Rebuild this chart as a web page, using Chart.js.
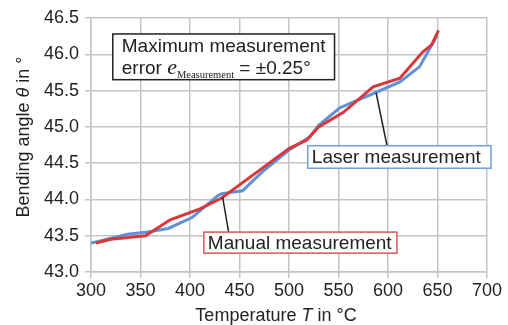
<!DOCTYPE html>
<html>
<head>
<meta charset="utf-8">
<script src="https://cdn.jsdelivr.net/npm/chart.js@4.4.1/dist/chart.umd.min.js"></script>
<style>
body { margin: 0; background: #fff; }
canvas { display: block; }
</style>
</head>
<body>
<canvas id="bendChart" width="508" height="325"></canvas>
<script>
// values
var manualTemp  = [305, 320, 355, 380, 410, 432, 470, 500, 518, 530, 555, 585, 612, 635, 644, 651];
var manualAngle = [43.40, 43.45, 43.50, 43.72, 43.87, 44.02, 44.40, 44.70, 44.82, 45.00, 45.20, 45.55, 45.67, 46.03, 46.13, 46.33];
var laserTemp  = [300, 307, 337, 357, 378, 402, 428, 432, 453, 473, 500, 521, 530, 551, 587, 612, 632, 650];
var laserAngle = [43.40, 43.42, 43.52, 43.55, 43.60, 43.75, 44.05, 44.08, 44.12, 44.38, 44.68, 44.86, 45.02, 45.26, 45.47, 45.62, 45.83, 46.27];
var xTicks = [300, 350, 400, 450, 500, 550, 600, 650, 700];
var yTicks = [43.0, 43.5, 44.0, 44.5, 45.0, 45.5, 46.0, 46.5];

var font = "'Liberation Sans', Arial, sans-serif";
var serif = "'Liberation Serif', 'Times New Roman', serif";
var gridColor = '#c4c4c4';
var redColor = '#d8383c';
var blueColor = '#5f90d8';

function toPoints(xs, ys) {
    var pts = [];
    for (var i = 0; i < xs.length; i++) {
        pts.push({x: xs[i], y: ys[i]});
    }
    return pts;
}

// callout boxes and leader lines, in data units
var labelBoxes = [
    {text: 'Laser measurement', x0: 519, x1: 704, y0: 44.74, y1: 44.43, border: '#6f9fdc', from: [588, 45.47], to: [599, 44.74]},
    {text: 'Manual measurement', x0: 414, x1: 609, y0: 43.55, y1: 43.26, border: '#d9585a', from: [433, 44.03], to: [439, 43.55]}
];
var noteBox = {x0: 322, x1: 546, y0: 46.28, y1: 45.65};

var annotations = {
    id: 'annotations',
    afterDatasetsDraw: function(chart) {
        var ctx = chart.ctx;
        var xs = chart.scales.x, ys = chart.scales.y;
        ctx.save();
        labelBoxes.forEach(function(b) {
            ctx.strokeStyle = '#222';
            ctx.lineWidth = 1.5;
            ctx.beginPath();
            ctx.moveTo(xs.getPixelForValue(b.from[0]), ys.getPixelForValue(b.from[1]));
            ctx.lineTo(xs.getPixelForValue(b.to[0]), ys.getPixelForValue(b.to[1]));
            ctx.stroke();
            var l = xs.getPixelForValue(b.x0), r = xs.getPixelForValue(b.x1);
            var t = ys.getPixelForValue(b.y0), bt = ys.getPixelForValue(b.y1);
            ctx.fillStyle = '#fff';
            ctx.fillRect(l, t, r - l, bt - t);
            ctx.strokeStyle = b.border;
            ctx.lineWidth = 1.5;
            ctx.strokeRect(l, t, r - l, bt - t);
            ctx.fillStyle = '#222';
            ctx.font = '19px ' + font;
            ctx.textBaseline = 'middle';
            ctx.textAlign = 'left';
            ctx.fillText(b.text, l + 4, (t + bt) / 2 + 1);
        });

        var l = xs.getPixelForValue(noteBox.x0), r = xs.getPixelForValue(noteBox.x1);
        var t = ys.getPixelForValue(noteBox.y0), bt = ys.getPixelForValue(noteBox.y1);
        ctx.fillStyle = '#fff';
        ctx.fillRect(l, t, r - l, bt - t);
        ctx.strokeStyle = '#222';
        ctx.lineWidth = 1.5;
        ctx.strokeRect(l, t, r - l, bt - t);
        ctx.fillStyle = '#222';
        ctx.textBaseline = 'alphabetic';
        ctx.font = '19px ' + font;
        var x = l + 9;
        ctx.fillText('Maximum measurement', x, t + 18);
        var base = t + 40;
        ctx.fillText('error ', x, base);
        x += ctx.measureText('error ').width;
        ctx.font = 'italic 22px ' + serif;
        ctx.fillText('e', x, base);
        x += ctx.measureText('e').width;
        ctx.font = '10.5px ' + serif;
        ctx.fillText('Measurement', x, base + 4);
        x += ctx.measureText('Measurement').width;
        ctx.font = '19px ' + font;
        ctx.fillText(' = \u00b10.25\u00b0', x, base);

        // axis titles
        var area = chart.chartArea;
        ctx.font = '18px ' + font;
        var parts = [['Temperature ', ''], ['T', 'italic '], [' in \u00b0C', '']];
        var total = 0;
        parts.forEach(function(p) { ctx.font = p[1] + '18px ' + font; total += ctx.measureText(p[0]).width; });
        x = (area.left + area.right) / 2 - 13 - total / 2;
        parts.forEach(function(p) {
            ctx.font = p[1] + '18px ' + font;
            ctx.fillText(p[0], x, 321);
            x += ctx.measureText(p[0]).width;
        });

        ctx.translate(29, (area.top + area.bottom) / 2 - 8);
        ctx.rotate(-Math.PI / 2);
        parts = [['Bending angle ', ''], ['\u03b8', 'italic '], [' in \u00b0', '']];
        total = 0;
        parts.forEach(function(p) { ctx.font = p[1] + '18px ' + font; total += ctx.measureText(p[0]).width; });
        x = -total / 2;
        parts.forEach(function(p) {
            ctx.font = p[1] + '18px ' + font;
            ctx.fillText(p[0], x, 0);
            x += ctx.measureText(p[0]).width;
        });
        ctx.restore();
    }
};

new Chart(document.getElementById('bendChart'), {
    type: 'scatter',
    data: {
        datasets: [
            {
                label: 'Manual measurement',
                data: toPoints(manualTemp, manualAngle),
                showLine: true,
                borderColor: redColor,
                borderWidth: 3,
                pointRadius: 0,
                tension: 0
            },
            {
                label: 'Laser measurement',
                data: toPoints(laserTemp, laserAngle),
                showLine: true,
                borderColor: blueColor,
                borderWidth: 3,
                pointRadius: 0,
                tension: 0
            }
        ]
    },
    options: {
        responsive: false,
        animation: false,
        layout: { padding: { top: 18, right: 21, left: 0, bottom: 0 } },
        plugins: {
            legend: { display: false },
            tooltip: { enabled: false }
        },
        scales: {
            x: {
                type: 'linear',
                min: 300,
                max: 700,
                afterBuildTicks: function(scale) { scale.ticks = xTicks.map(function(v) { return {value: v}; }); },
                afterFit: function(scale) { scale.height = 53; },
                ticks: { color: '#222', font: { family: font, size: 18 }, padding: 2, maxRotation: 0 },
                grid: { color: gridColor, lineWidth: 1.5, tickLength: 6 },
                border: { color: gridColor, width: 1.5 }
            },
            y: {
                min: 43,
                max: 46.5,
                afterBuildTicks: function(scale) { scale.ticks = yTicks.map(function(v) { return {value: v}; }); },
                afterFit: function(scale) { scale.width = 91; },
                ticks: { color: '#222', font: { family: font, size: 18 }, padding: 6,
                    callback: function(v) { return Number(v).toFixed(1); } },
                grid: { color: gridColor, lineWidth: 1.5, tickLength: 6 },
                border: { color: gridColor, width: 1.5 }
            }
        }
    },
    plugins: [annotations]
});
</script>
</body>
</html>
